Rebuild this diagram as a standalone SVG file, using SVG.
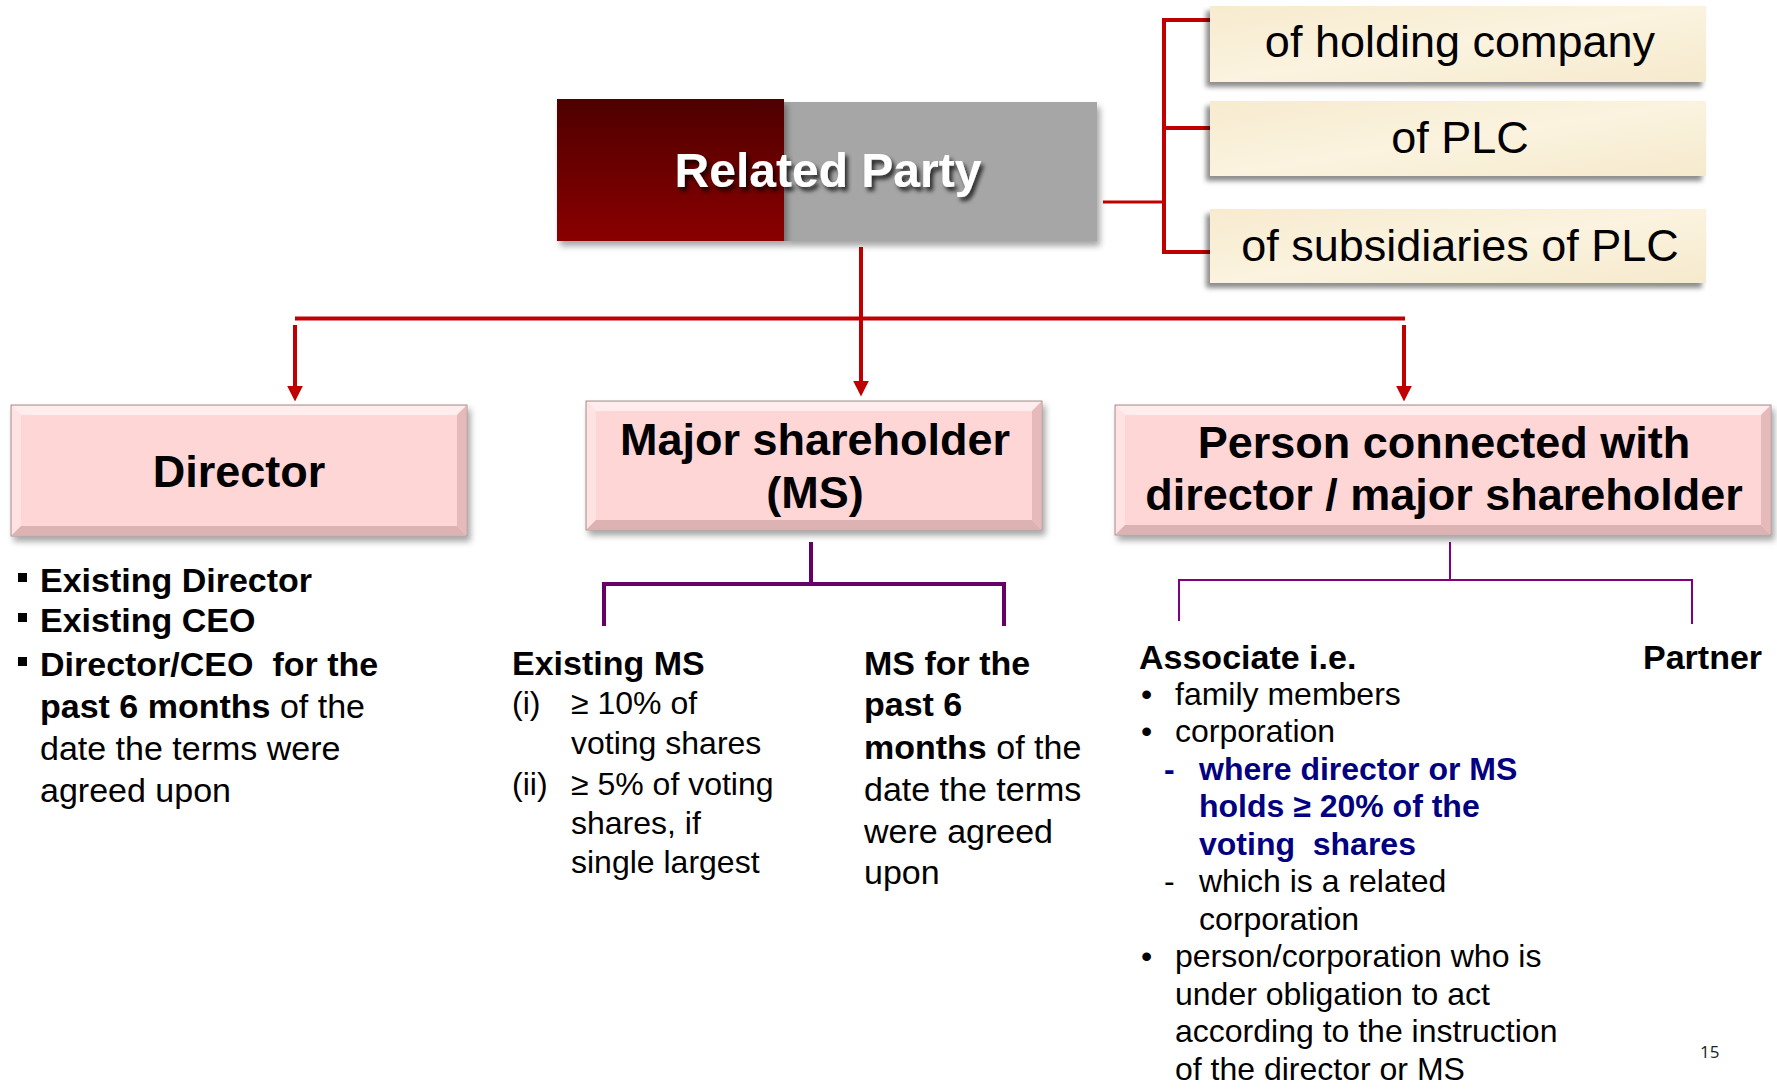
<svg xmlns="http://www.w3.org/2000/svg" width="1777" height="1092" viewBox="0 0 1777 1092">
<defs>
<style>
text{font-family:"Liberation Sans",Arial,sans-serif;fill:#000}
.b{font-weight:bold}
.hdr{font-size:45px;font-weight:bold;text-anchor:middle}
.cream{font-size:45px;text-anchor:middle}
.t34{font-size:34px}
.t32{font-size:32px}
.blue{fill:#000080;font-weight:bold}
.red{stroke:#C00000;stroke-width:4;fill:none}
.redt{stroke:#C00000;stroke-width:3;fill:none}
.pur{stroke:#660066;stroke-width:4;fill:none}
.purt{stroke:#800080;stroke-width:2;fill:none}
.pink{fill:#FFD6D6;stroke:#A89090;stroke-width:1}
.bt{fill:#FFEDED}
.bl{fill:#FFE3E3}
.br{fill:#E6BABA}
.bb{fill:#DDB2B2}
.cbox{fill:url(#cg)}
</style>
<linearGradient id="rg" x1="0" y1="0" x2="0" y2="1">
<stop offset="0" stop-color="#4E0000"/>
<stop offset="1" stop-color="#8A0000"/>
</linearGradient>
<linearGradient id="cg" x1="0" y1="0" x2="1" y2="1">
<stop offset="0" stop-color="#F7EBCF"/>
<stop offset="0.5" stop-color="#FBF3DF"/>
<stop offset="1" stop-color="#F6EACD"/>
</linearGradient>
<filter id="sh" x="-10%" y="-10%" width="125%" height="130%">
<feDropShadow dx="3" dy="5" stdDeviation="3" flood-color="#000" flood-opacity="0.35"/>
</filter>
<filter id="shl" x="-10%" y="-10%" width="125%" height="130%">
<feDropShadow dx="-4" dy="5" stdDeviation="2.5" flood-color="#000" flood-opacity="0.45"/>
</filter>
<filter id="tsh" x="-10%" y="-20%" width="125%" height="150%">
<feDropShadow dx="3" dy="4" stdDeviation="2" flood-color="#000" flood-opacity="0.75"/>
</filter>
<marker id="ah" viewBox="0 0 10 10" refX="4" refY="5" markerWidth="16" markerHeight="16" markerUnits="userSpaceOnUse" orient="auto">
<path d="M0,0 L10,5 L0,10 z" fill="#C00000"/>
</marker>
</defs>
<rect width="1777" height="1092" fill="#fff"/>

<g id="connectors">
<line class="red" x1="861" y1="247" x2="861" y2="387" marker-end="url(#ah)"/>
<line class="red" x1="295" y1="318.5" x2="1405" y2="318.5"/>
<line class="red" x1="295" y1="325" x2="295" y2="392" marker-end="url(#ah)"/>
<line class="red" x1="1404" y1="325" x2="1404" y2="392" marker-end="url(#ah)"/>
<line class="redt" x1="1103" y1="202" x2="1164" y2="202"/>
<path class="red" d="M1210,20 H1164 V252 H1210 M1164,128 H1210"/>
<path class="pur" d="M811,542 V584 M604,626 V584 H1004 V626"/>
<path class="purt" d="M1450,542 V581 M1179,621 V580 H1692 V624"/>
</g>

<g id="related-party">
<rect x="784" y="102" width="313" height="139" fill="#A6A6A6" filter="url(#sh)"/>
<rect x="557" y="99" width="227" height="142" fill="url(#rg)" filter="url(#sh)"/>
<text x="828" y="187" class="b" style="font-size:48px;fill:#fff;text-anchor:middle" filter="url(#tsh)">Related Party</text>
</g>

<g id="of-holding-company">
<rect class="cbox" x="1210" y="6" width="496" height="76" filter="url(#shl)"/>
<text class="cream" x="1460" y="57">of holding company</text>
</g>
<g id="of-plc">
<rect class="cbox" x="1210" y="101" width="496" height="75" filter="url(#shl)"/>
<text class="cream" x="1460" y="153">of PLC</text>
</g>
<g id="of-subsidiaries">
<rect class="cbox" x="1210" y="209" width="496" height="74" filter="url(#shl)"/>
<text class="cream" x="1460" y="261">of subsidiaries of PLC</text>
</g>

<g id="director">
<g filter="url(#sh)">
<rect class="pink" x="11" y="405" width="456" height="131"/>
</g>
<polygon class="bt" points="12,406 466,406 457,415 21,415"/>
<polygon class="bl" points="12,406 21,415 21,526 12,535"/>
<polygon class="br" points="466,406 466,535 457,526 457,415"/>
<polygon class="bb" points="12,535 21,526 457,526 466,535"/>
<text class="hdr" x="239" y="487">Director</text>
</g>

<g id="major-shareholder">
<g filter="url(#sh)">
<rect class="pink" x="586" y="401" width="456" height="129"/>
</g>
<polygon class="bt" points="587,402 1041,402 1032,411 596,411"/>
<polygon class="bl" points="587,402 596,411 596,520 587,529"/>
<polygon class="br" points="1041,402 1041,529 1032,520 1032,411"/>
<polygon class="bb" points="587,529 596,520 1032,520 1041,529"/>
<text class="hdr" x="815" y="455">Major shareholder</text>
<text class="hdr" x="815" y="508">(MS)</text>
</g>

<g id="person-connected">
<g filter="url(#sh)">
<rect class="pink" x="1115" y="405" width="656" height="130"/>
</g>
<polygon class="bt" points="1116,406 1770,406 1761,415 1125,415"/>
<polygon class="bl" points="1116,406 1125,415 1125,525 1116,534"/>
<polygon class="br" points="1770,406 1770,534 1761,525 1761,415"/>
<polygon class="bb" points="1116,534 1125,525 1761,525 1770,534"/>
<text class="hdr" x="1444" y="458">Person connected with</text>
<text class="hdr" x="1444" y="510">director / major shareholder</text>
</g>

<g id="director-criteria" class="t34">
<rect x="18" y="573" width="9" height="9"/>
<rect x="18" y="613" width="9" height="9"/>
<rect x="18" y="657" width="9" height="9"/>
<text x="40" y="592" class="b">Existing Director</text>
<text x="40" y="632" class="b">Existing CEO</text>
<text x="40" y="676" class="b" xml:space="preserve">Director/CEO  for the</text>
<text x="40" y="718"><tspan class="b">past 6 months</tspan> of the</text>
<text x="40" y="760">date the terms were</text>
<text x="40" y="802">agreed upon</text>
</g>

<g id="existing-ms">
<text x="512" y="675" class="t34 b">Existing MS</text>
<text x="512" y="714" class="t32">(i)</text>
<text x="571" y="714" class="t32">≥ 10% of</text>
<text x="571" y="754" class="t32">voting shares</text>
<text x="512" y="795" class="t32">(ii)</text>
<text x="571" y="795" class="t32">≥ 5% of voting</text>
<text x="571" y="834" class="t32">shares, if</text>
<text x="571" y="873" class="t32">single largest</text>
</g>

<g id="ms-past" class="t34">
<text x="864" y="675" class="b">MS for the</text>
<text x="864" y="716" class="b">past 6</text>
<text x="864" y="759"><tspan class="b">months</tspan> of the</text>
<text x="864" y="801">date the terms</text>
<text x="864" y="843">were agreed</text>
<text x="864" y="884">upon</text>
</g>

<g id="associate">
<text x="1139" y="669" class="t34 b">Associate i.e.</text>
<text class="t32" x="1141" y="705">•</text>
<text class="t32" x="1175" y="705">family members</text>
<text class="t32" x="1141" y="742">•</text>
<text class="t32" x="1175" y="742">corporation</text>
<text class="t32 blue" x="1164" y="780">-</text>
<text class="t32 blue" x="1199" y="780">where director or MS</text>
<text class="t32 blue" x="1199" y="817">holds ≥ 20% of the</text>
<text class="t32 blue" x="1199" y="855" xml:space="preserve">voting  shares</text>
<text class="t32" x="1164" y="892">-</text>
<text class="t32" x="1199" y="892">which is a related</text>
<text class="t32" x="1199" y="930">corporation</text>
<text class="t32" x="1141" y="967">•</text>
<text class="t32" x="1175" y="967">person/corporation who is</text>
<text class="t32" x="1175" y="1005">under obligation to act</text>
<text class="t32" x="1175" y="1042">according to the instruction</text>
<text class="t32" x="1175" y="1080">of the director or MS</text>
</g>

<g id="partner">
<text x="1643" y="669" class="t34 b">Partner</text>
</g>

<text x="1700" y="1058" style="font-family:'Open Sans','Liberation Sans',sans-serif;font-size:17px;fill:#222">15</text>
</svg>
